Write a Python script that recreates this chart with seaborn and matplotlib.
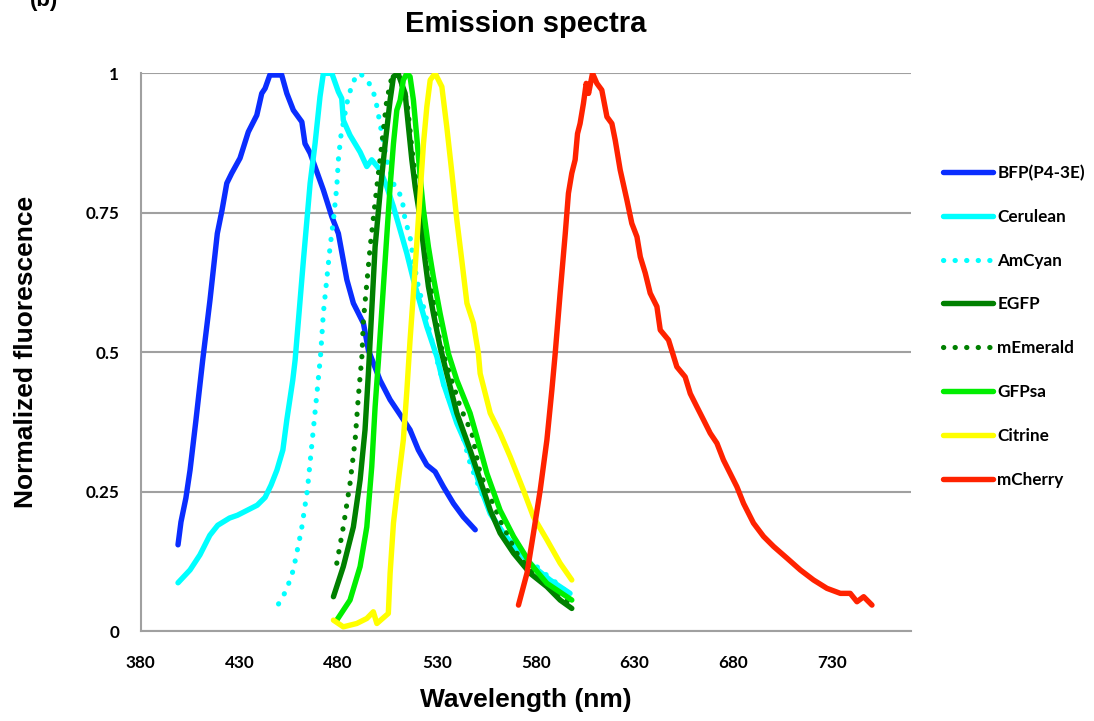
import numpy as np
import pandas as pd
import matplotlib
matplotlib.use("Agg")
import matplotlib.pyplot as plt
import seaborn as sns

# emission spectra (wavelength nm, normalized intensity)
bfp_nm = [398.9, 400.4, 402.9, 405.0, 408.0, 411.4, 415.1, 418.8, 421.2, 423.6, 426.1, 430.3, 434.5,
          438.8, 441.3, 443.0, 445.4, 451.4, 454.0, 457.3, 461.6, 463.2, 465.8, 472.5, 476.8, 480.1,
          484.4, 487.7, 492.8, 495.3, 501.2, 506.3, 511.4, 516.4, 520.6, 524.9, 529.1, 533.3, 538.4,
          543.4, 549.4]
bfp_val = [0.155, 0.196, 0.239, 0.289, 0.379, 0.486, 0.594, 0.713, 0.755, 0.803, 0.821, 0.848, 0.895,
           0.925, 0.964, 0.973, 0.997, 0.997, 0.964, 0.934, 0.913, 0.874, 0.857, 0.791, 0.743, 0.713,
           0.630, 0.588, 0.552, 0.504, 0.450, 0.415, 0.388, 0.361, 0.325, 0.298, 0.286, 0.259, 0.229,
           0.205, 0.182]

cerulean_nm = [398.9, 405.0, 410.0, 415.0, 419.0, 425.0, 429.0, 434.0, 439.0, 443.0, 446.0, 449.0,
               452.0, 454.0, 457.0, 458.2, 462.4, 465.8, 468.3, 470.8, 472.5, 476.8, 480.1, 481.8,
               482.6, 486.0, 491.1, 494.5, 497.0, 501.2, 504.6, 508.0, 511.4, 514.8, 518.1, 521.5,
               524.9, 530.0, 533.3, 540.1, 546.8, 551.9, 557.0, 563.7, 570.5, 578.9, 587.3, 597.4]
cerulean_val = [0.087, 0.110, 0.137, 0.172, 0.190, 0.203, 0.208, 0.217, 0.226, 0.240, 0.262, 0.289,
                0.325, 0.379, 0.450, 0.486, 0.665, 0.803, 0.874, 0.958, 1.0, 1.0, 0.967, 0.955,
                0.916, 0.889, 0.859, 0.833, 0.845, 0.827, 0.797, 0.761, 0.719, 0.677, 0.630, 0.588,
                0.546, 0.492, 0.444, 0.373, 0.319, 0.259, 0.211, 0.176, 0.146, 0.116, 0.092, 0.068]

amcyan_nm = [449.8, 453.8, 457.3, 461.4, 464.4, 467.4, 469.4, 471.1, 472.5, 474.2, 475.9, 477.6, 479.3,
             480.1, 481.3, 484.4, 486.9, 489.4, 491.1, 495.3, 498.7, 502.1, 504.6, 508.8, 512.2, 513.9,
             516.4, 518.1, 520.6, 524.0, 528.2, 534.2, 541.8, 546.8, 551.9, 558.6, 565.4, 575.5, 582.3,
             590.7, 596.6]
amcyan_val = [0.049, 0.074, 0.110, 0.182, 0.253, 0.361, 0.432, 0.495, 0.570, 0.630, 0.689, 0.737, 0.797,
              0.845, 0.886, 0.946, 0.979, 0.997, 1.0, 0.985, 0.958, 0.892, 0.845, 0.794, 0.779, 0.737,
              0.707, 0.665, 0.618, 0.570, 0.510, 0.432, 0.367, 0.301, 0.253, 0.205, 0.170, 0.134, 0.110,
              0.086, 0.068]

egfp_nm = [477.6, 482.6, 487.7, 491.1, 493.6, 495.3, 498.7, 501.2, 503.8, 506.3, 508.0, 510.3, 513.9,
           515.6, 517.3, 519.0, 520.6, 522.4, 524.0, 525.7, 528.2, 531.6, 535.0, 540.1, 546.8, 551.9,
           557.0, 562.0, 568.8, 577.2, 585.7, 592.4, 598.3]
egfp_val = [0.062, 0.116, 0.187, 0.271, 0.361, 0.462, 0.689, 0.785, 0.874, 0.952, 0.994, 1.0, 0.964,
            0.904, 0.845, 0.797, 0.761, 0.713, 0.665, 0.618, 0.570, 0.510, 0.462, 0.391, 0.325, 0.271,
            0.217, 0.176, 0.140, 0.104, 0.080, 0.056, 0.041]

memerald_nm = [479.3, 482.6, 486.0, 488.6, 490.2, 492.0, 492.8, 496.2, 499.6, 502.1, 504.6, 507.2, 508.8,
               511.4, 514.8, 517.4, 519.8, 522.4, 524.9, 528.2, 531.6, 536.7, 541.8, 547.7, 551.9, 557.0,
               562.0, 570.5, 578.9, 589.0, 597.5]
memerald_val = [0.122, 0.187, 0.265, 0.343, 0.420, 0.492, 0.558, 0.689, 0.797, 0.874, 0.952, 0.994, 1.0,
                0.988, 0.952, 0.863, 0.797, 0.737, 0.665, 0.594, 0.516, 0.459, 0.402, 0.355, 0.283, 0.241,
                0.199, 0.140, 0.104, 0.074, 0.050]

gfpsa_nm = [479.3, 486.0, 491.1, 494.5, 497.0, 498.7, 500.4, 503.8, 506.3, 508.0, 509.7, 511.4, 513.0,
            514.8, 516.4, 518.1, 519.8, 521.5, 523.2, 525.7, 528.2, 531.6, 535.8, 540.1, 546.8, 550.2,
            555.3, 562.0, 568.8, 577.2, 585.7, 598.3]
gfpsa_val = [0.020, 0.056, 0.116, 0.187, 0.295, 0.402, 0.486, 0.665, 0.797, 0.874, 0.934, 0.952, 0.988,
             1.0, 0.994, 0.952, 0.886, 0.815, 0.755, 0.689, 0.635, 0.570, 0.498, 0.450, 0.391, 0.349,
             0.283, 0.217, 0.170, 0.122, 0.086, 0.056]

citrine_nm = [477.6, 482.6, 489.4, 494.5, 497.8, 499.6, 505.4, 506.3, 508.0, 510.5, 513.0, 514.8, 516.4,
              518.1, 519.8, 521.5, 523.2, 524.9, 526.6, 529.1, 532.5, 535.0, 537.6, 540.1, 542.6, 545.2,
              548.5, 551.0, 551.9, 557.0, 562.0, 567.1, 573.8, 578.9, 585.7, 592.4, 598.3]
citrine_val = [0.020, 0.008, 0.014, 0.023, 0.035, 0.014, 0.032, 0.104, 0.194, 0.271, 0.343, 0.432, 0.522,
               0.606, 0.695, 0.785, 0.874, 0.940, 0.988, 1.0, 0.976, 0.904, 0.821, 0.737, 0.665, 0.588,
               0.552, 0.498, 0.462, 0.391, 0.355, 0.313, 0.253, 0.205, 0.164, 0.122, 0.092]

mcherry_nm = [571.3, 575.6, 578.9, 582.3, 585.7, 588.2, 589.9, 592.4, 595.0, 596.6, 598.3, 600.0, 601.2,
              602.5, 604.2, 605.6, 606.8, 608.8, 611.0, 613.5, 616.1, 618.6, 620.3, 622.8, 626.2, 628.7,
              631.3, 633.0, 635.5, 638.0, 641.4, 643.1, 647.3, 651.5, 655.7, 658.3, 661.7, 665.0, 668.4,
              671.8, 675.1, 678.5, 681.9, 685.3, 690.3, 695.4, 700.5, 707.3, 714.0, 720.7, 727.5, 734.3,
              739.3, 742.7, 746.1, 750.3]
mcherry_val = [0.047, 0.104, 0.176, 0.253, 0.343, 0.432, 0.498, 0.606, 0.713, 0.785, 0.821, 0.845, 0.892,
               0.910, 0.946, 0.982, 0.964, 1.0, 0.982, 0.970, 0.922, 0.910, 0.880, 0.827, 0.773, 0.731,
               0.707, 0.671, 0.642, 0.606, 0.582, 0.540, 0.522, 0.474, 0.456, 0.426, 0.402, 0.379, 0.355,
               0.337, 0.307, 0.283, 0.259, 0.229, 0.194, 0.170, 0.152, 0.131, 0.110, 0.092, 0.077, 0.068,
               0.068, 0.053, 0.062, 0.047]

series = [
    ("BFP(P4-3E)", bfp_nm, bfp_val, "#0a2dff", "-"),
    ("Cerulean", cerulean_nm, cerulean_val, "#00ffff", "-"),
    ("AmCyan", amcyan_nm, amcyan_val, "#00ffff", ":"),
    ("EGFP", egfp_nm, egfp_val, "#008000", "-"),
    ("mEmerald", memerald_nm, memerald_val, "#008000", ":"),
    ("GFPsa", gfpsa_nm, gfpsa_val, "#00ee00", "-"),
    ("Citrine", citrine_nm, citrine_val, "#ffff00", "-"),
    ("mCherry", mcherry_nm, mcherry_val, "#ff2200", "-"),
]

sns.set_style("white")
plt.rcParams['font.family'] = ['Liberation Sans', 'DejaVu Sans']
plt.rcParams['text.color'] = 'black'
plt.rcParams['axes.labelcolor'] = 'black'
plt.rcParams['xtick.labelcolor'] = 'black'
plt.rcParams['ytick.labelcolor'] = 'black'

fig = plt.figure(figsize=(10.94, 7.21), dpi=100)
ax = fig.add_axes([0.1286, 0.1244, 0.704, 0.7739])

for name, nm, val, col, ls in series:
    df = pd.DataFrame({'nm': nm, 'val': val})
    if ls == ":":
        sns.lineplot(data=df, x='nm', y='val', ax=ax, sort=False, estimator=None, color=col,
                     linewidth=3.7, linestyle=(0, (0.05, 2.2)), dash_capstyle='round', label=name)
    else:
        sns.lineplot(data=df, x='nm', y='val', ax=ax, sort=False, estimator=None, color=col,
                     linewidth=3.9, solid_capstyle='round', solid_joinstyle='round', label=name)

ax.set_xlim(380, 770)
ax.set_ylim(0, 1)
ax.set_xticks(range(380, 731, 50))
ax.set_yticks([0, 0.25, 0.5, 0.75, 1])
ax.set_yticklabels(['0', '0.25', '0.5', '0.75', '1'])
ax.yaxis.grid(True, color='#a0a0a0', linewidth=1.5)
ax.xaxis.grid(False)
for s in ['top', 'right']:
    ax.spines[s].set_visible(False)
for s in ['left', 'bottom']:
    ax.spines[s].set_color('#a0a0a0')
    ax.spines[s].set_linewidth(1.5)
ax.tick_params(axis='both', direction='out', length=4.5, width=1.5, color='#a0a0a0', labelcolor='black')
ax.tick_params(axis='x', pad=12.5)
ax.tick_params(axis='y', pad=11)
for lab in ax.get_xticklabels() + ax.get_yticklabels():
    lab.set_fontfamily(['Lato', 'DejaVu Sans'])
    lab.set_fontweight('bold')
    lab.set_fontsize(12.3)

ax.set_xlabel('Wavelength (nm)', fontsize=19, fontweight='bold', labelpad=12, color='black')
ax.set_ylabel('Normalized fluorescence', fontsize=19, fontweight='bold', labelpad=34, color='black')
ax.set_title('Emission spectra', fontsize=21, fontweight='bold', pad=30, color='black')
fig.text(0.027, 1 - 6 / 721, '(b)', fontsize=16, fontweight='bold', va='baseline', color='black')

leg = ax.legend(loc='upper left', bbox_to_anchor=(0.8475, 0.793), bbox_transform=fig.transFigure,
                frameon=False, handlelength=2.95, handletextpad=0.25, labelspacing=1.63,
                prop={'family': ['Lato', 'DejaVu Sans'], 'weight': 'bold', 'size': 12.3})
for t in leg.get_texts():
    t.set_color('black')

fig.savefig('out.png', dpi=100)
